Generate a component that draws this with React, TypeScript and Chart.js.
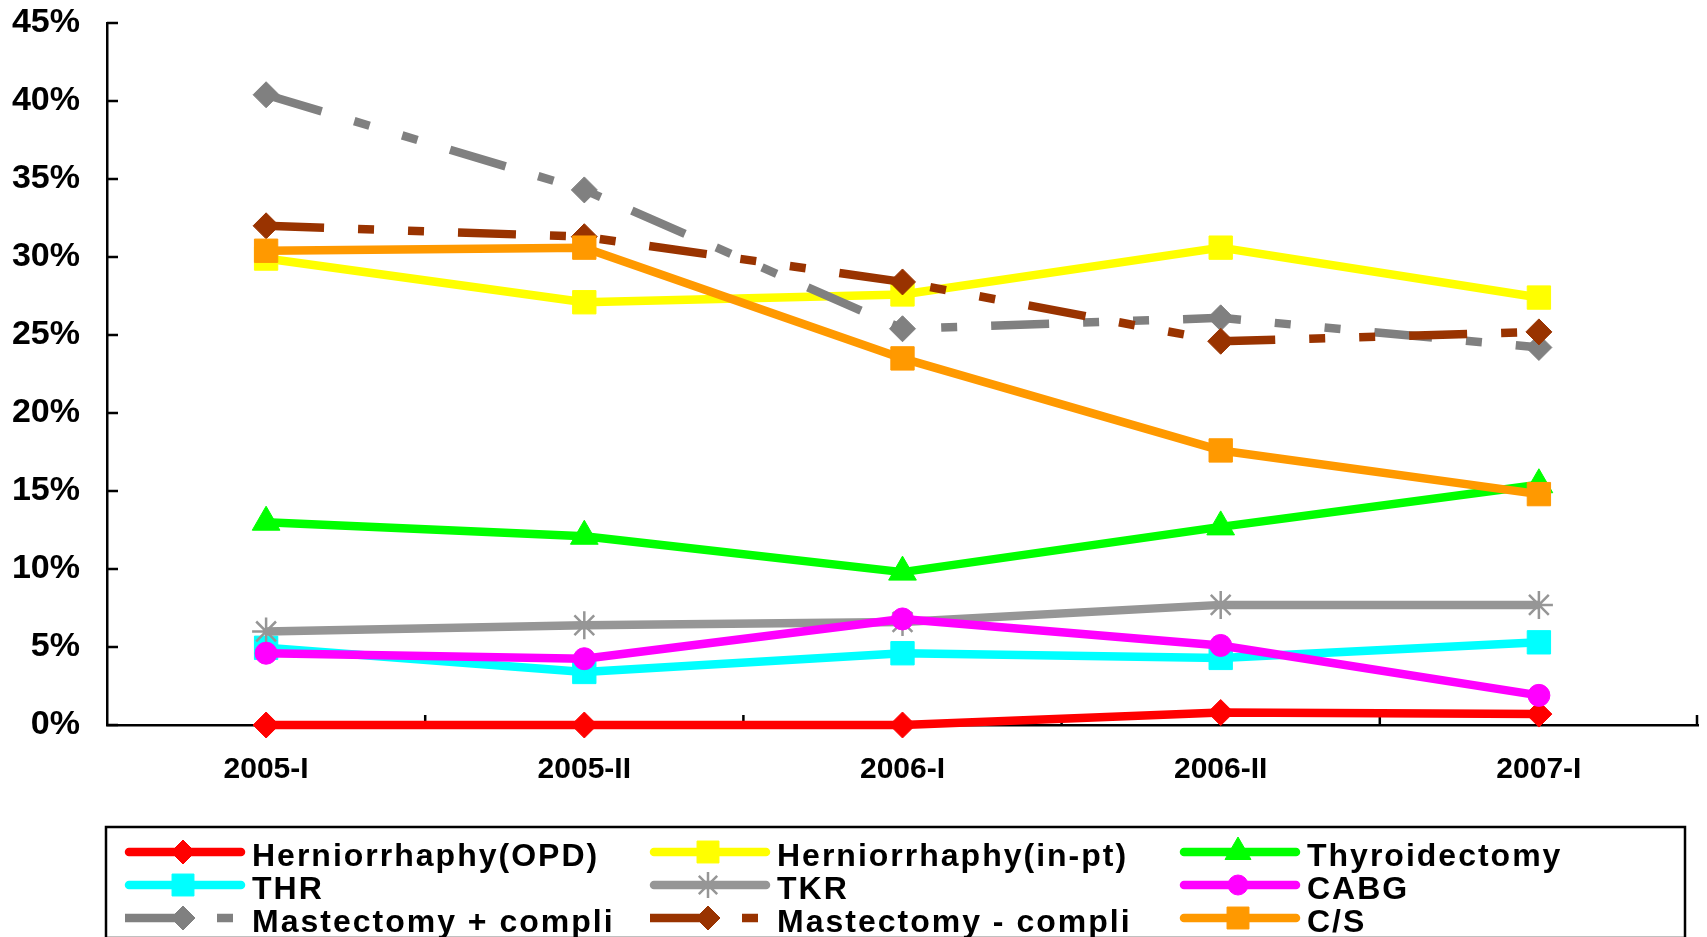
import React, { useEffect, useRef } from 'react';
import { Chart, registerables } from 'chart.js';
import { drawPoint } from 'chart.js/helpers';

Chart.register(...registerables);

const categories = ['2005-I', '2005-II', '2006-I', '2006-II', '2007-I'];

const herniorrhaphyOPD = [0, 0, 0, 0.8, 0.7];
const herniorrhaphyInpt = [29.9, 27.1, 27.6, 30.6, 27.4];
const thyroidectomy = [13.0, 12.1, 9.8, 12.7, 15.4];
const thr = [4.95, 3.4, 4.6, 4.3, 5.3];
const tkr = [6.0, 6.4, 6.6, 7.7, 7.7];
const cabg = [4.6, 4.25, 6.8, 5.1, 1.9];
const mastectomyPlus = [40.4, 34.3, 25.4, 26.1, 24.2];
const mastectomyMinus = [32.0, 31.3, 28.4, 24.6, 25.2];
const cs = [30.4, 30.6, 23.5, 17.6, 14.8];

const yTicks = [0, 5, 10, 15, 20, 25, 30, 35, 40, 45];

const FONT = '"Liberation Sans", Arial, Helvetica, sans-serif';
const DASH = [58, 34, 16, 34, 16, 34];

type Series = {
  label: string;
  data: number[];
  color: string;
  pointStyle: string;
  radius: number;
  pbw: number;
  dash?: number[];
};

const series: Series[] = [
  { label: 'Herniorrhaphy(OPD)', data: herniorrhaphyOPD, color: '#FF0000', pointStyle: 'rectRot', radius: 13, pbw: 1 },
  { label: 'Herniorrhaphy(in-pt)', data: herniorrhaphyInpt, color: '#FFFF00', pointStyle: 'rect', radius: 16.5, pbw: 1 },
  { label: 'Thyroidectomy', data: thyroidectomy, color: '#00FF00', pointStyle: 'triangle', radius: 16, pbw: 1 },
  { label: 'THR', data: thr, color: '#00FFFF', pointStyle: 'rect', radius: 16.5, pbw: 1 },
  { label: 'TKR', data: tkr, color: '#969696', pointStyle: 'star', radius: 14, pbw: 2.5 },
  { label: 'CABG', data: cabg, color: '#FF00FF', pointStyle: 'circle', radius: 11, pbw: 1 },
  { label: 'Mastectomy + compli', data: mastectomyPlus, color: '#808080', pointStyle: 'rectRot', radius: 13, pbw: 1, dash: DASH },
  { label: 'Mastectomy - compli', data: mastectomyMinus, color: '#993300', pointStyle: 'rectRot', radius: 13, pbw: 1, dash: DASH },
  { label: 'C/S', data: cs, color: '#FF9900', pointStyle: 'rect', radius: 16.5, pbw: 1 },
];

const tickMarks = {
  id: 'tickMarks',
  beforeDatasetsDraw(chart: any) {
    const { ctx, chartArea, scales } = chart;
    const x = scales.x;
    const y = scales.y;
    ctx.save();
    ctx.strokeStyle = '#000';
    ctx.lineWidth = 2.5;
    ctx.beginPath();
    yTicks.forEach((v) => {
      const py = Math.round(y.getPixelForValue(v));
      ctx.moveTo(chartArea.left, py);
      ctx.lineTo(chartArea.left + 11, py);
    });
    const n = categories.length;
    for (let i = 1; i <= n; i++) {
      const px = i < n ? (x.getPixelForValue(i - 1) + x.getPixelForValue(i)) / 2 : chartArea.right - 1;
      ctx.moveTo(px, chartArea.bottom);
      ctx.lineTo(px, chartArea.bottom - 10);
    }
    ctx.stroke();
    ctx.restore();
  },
};

const boxLegend = {
  id: 'boxLegend',
  afterDraw(chart: any) {
    const ctx = chart.ctx;
    ctx.save();
    ctx.strokeStyle = '#000';
    ctx.lineWidth = 2.5;
    ctx.setLineDash([]);
    ctx.strokeRect(106, 827, 1579, 111);
    const colX = [125, 650, 1180];
    const rowY = [852, 885, 918];
    series.forEach((s, i) => {
      const x0 = colX[i % 3];
      const y0 = rowY[Math.floor(i / 3)];
      ctx.save();
      ctx.strokeStyle = s.color;
      ctx.lineWidth = 8.5;
      if (s.dash) {
        ctx.setLineDash(s.dash);
        ctx.lineCap = 'butt';
        ctx.beginPath();
        ctx.moveTo(x0, y0);
        ctx.lineTo(x0 + 120, y0);
        ctx.stroke();
      } else {
        ctx.setLineDash([]);
        ctx.lineCap = 'round';
        ctx.beginPath();
        ctx.moveTo(x0 + 4, y0);
        ctx.lineTo(x0 + 116, y0);
        ctx.stroke();
      }
      ctx.setLineDash([]);
      ctx.lineCap = 'butt';
      ctx.fillStyle = s.color;
      ctx.strokeStyle = s.color;
      ctx.lineWidth = s.pbw;
      drawPoint(ctx, { pointStyle: s.pointStyle as any, radius: s.radius - 1, rotation: 0, borderWidth: s.pbw }, x0 + 58, y0);
      ctx.restore();

      ctx.save();
      ctx.fillStyle = '#000';
      ctx.font = `bold 32px ${FONT}`;
      (ctx as any).letterSpacing = '2px';
      ctx.textBaseline = 'alphabetic';
      ctx.textAlign = 'left';
      ctx.fillText(s.label, x0 + 127, y0 + 13.5);
      ctx.restore();
    });
    ctx.restore();
  },
};

export default function App() {
  const canvasRef = useRef<HTMLCanvasElement | null>(null);

  useEffect(() => {
    const canvas = canvasRef.current;
    if (!canvas) return;
    const chart = new Chart(canvas, {
      type: 'line',
      data: {
        labels: categories,
        datasets: series.map((s, i) => ({
          label: s.label,
          data: s.data,
          borderColor: s.color,
          backgroundColor: s.color,
          borderWidth: 8.5,
          borderDash: s.dash || [],
          borderCapStyle: 'butt',
          borderJoinStyle: 'round',
          pointStyle: s.pointStyle as any,
          pointRadius: s.radius,
          pointBorderWidth: s.pbw,
          pointBackgroundColor: s.color,
          pointBorderColor: s.color,
          pointHoverRadius: s.radius,
          tension: 0,
          fill: false,
          clip: false as any,
          order: series.length - i,
        })),
      },
      options: {
        responsive: false,
        animation: false,
        events: [],
        layout: { autoPadding: false, padding: { top: 23, right: 9, left: 0, bottom: 0 } },
        plugins: {
          legend: { display: false },
          tooltip: { enabled: false },
        },
        scales: {
          x: {
            type: 'category',
            offset: true,
            grid: { display: false, drawTicks: false, offset: true },
            border: { display: true, color: '#000', width: 2.5 },
            ticks: {
              color: '#000',
              font: { family: FONT, size: 30, weight: 'bold' },
              padding: 27,
              maxRotation: 0,
              autoSkip: false,
            },
            afterFit: (s: any) => {
              s.height = 212;
              s.paddingLeft = 0;
              s.paddingRight = 0;
              s.paddingTop = 0;
              s.paddingBottom = 0;
            },
          },
          y: {
            min: 0,
            max: 45,
            grid: { display: false, drawTicks: false },
            border: { display: true, color: '#000', width: 2.5 },
            ticks: {
              stepSize: 5,
              color: '#000',
              font: { family: FONT, size: 34, weight: 'bold' },
              padding: 27,
              callback: (v: any) => `${v}%`,
            },
            afterFit: (s: any) => {
              s.width = 107;
              s.paddingTop = 0;
              s.paddingBottom = 0;
              s.paddingLeft = 0;
              s.paddingRight = 0;
            },
          },
        },
      },
      plugins: [tickMarks, boxLegend],
    });
    return () => chart.destroy();
  }, []);

  return (
    <div style={{ position: 'fixed', left: 0, top: 0, width: 1707, height: 937, background: '#fff', overflow: 'hidden' }}>
      <canvas ref={canvasRef} width={1707} height={937} style={{ display: 'block', width: 1707, height: 937 }} />
    </div>
  );
}
